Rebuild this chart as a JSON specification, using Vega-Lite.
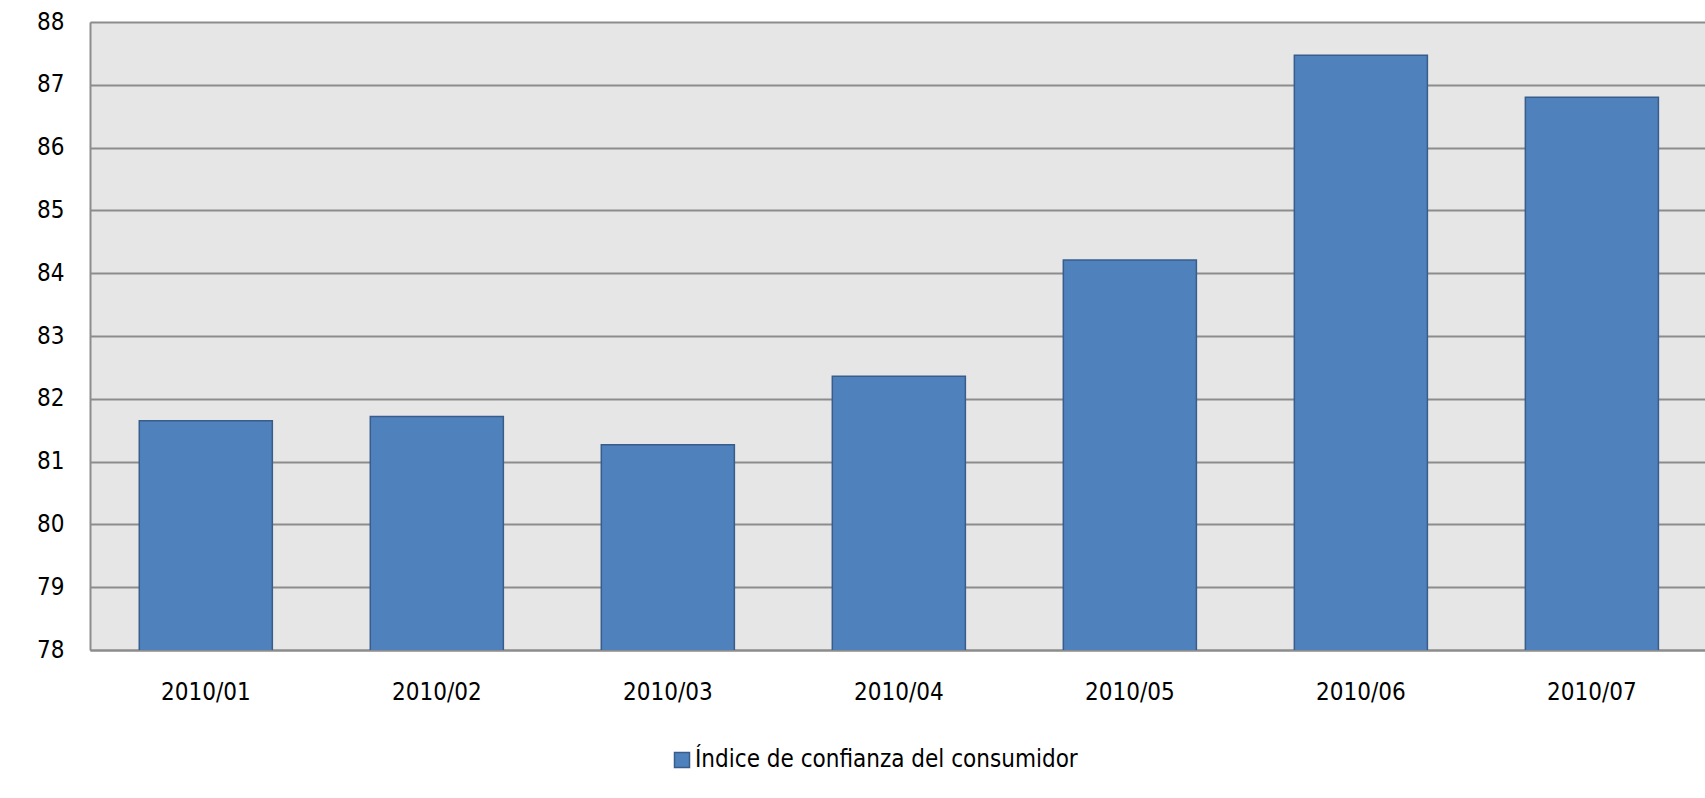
{
  "$schema": "https://vega.github.io/schema/vega-lite/v6.json",
  "autosize": {"type": "none"},
  "padding": {"left": 90, "top": 22, "right": 0, "bottom": 148},
  "width": 1615,
  "height": 628,
  "background": "white",
  "data": {
    "values": [
      {"mes": "2010/01", "valor": 81.65, "serie": "Índice de confianza del consumidor"},
      {"mes": "2010/02", "valor": 81.72, "serie": "Índice de confianza del consumidor"},
      {"mes": "2010/03", "valor": 81.27, "serie": "Índice de confianza del consumidor"},
      {"mes": "2010/04", "valor": 82.36, "serie": "Índice de confianza del consumidor"},
      {"mes": "2010/05", "valor": 84.21, "serie": "Índice de confianza del consumidor"},
      {"mes": "2010/06", "valor": 87.47, "serie": "Índice de confianza del consumidor"},
      {"mes": "2010/07", "valor": 86.80, "serie": "Índice de confianza del consumidor"}
    ]
  },
  "config": {
    "view": {"fill": "#e6e6e6", "stroke": null},
    "font": "DejaVu Sans Condensed, sans-serif"
  },
  "mark": {"type": "bar", "stroke": "#385d8a", "strokeWidth": 1.5, "clip": true},
  "encoding": {
    "x": {
      "field": "mes",
      "type": "nominal",
      "scale": {
        "paddingInner": 0.424,
        "paddingOuter": 0.2075,
        "align": 0.514
      },
      "axis": {
        "title": null,
        "labelAngle": 0,
        "labelFontSize": 24,
        "labelColor": "#000000",
        "labelPadding": 30,
        "ticks": false,
        "domainColor": "#8c8c8c",
        "domainWidth": 2,
        "labelFont": "DejaVu Sans Condensed, sans-serif"
      }
    },
    "y": {
      "field": "valor",
      "type": "quantitative",
      "scale": {"domain": [78, 88], "zero": false, "nice": false},
      "axis": {
        "title": null,
        "values": [78, 79, 80, 81, 82, 83, 84, 85, 86, 87, 88],
        "labelFontSize": 24,
        "labelColor": "#000000",
        "labelPadding": 26,
        "ticks": false,
        "grid": true,
        "gridColor": "#8c8c8c",
        "gridWidth": 2,
        "domainColor": "#8c8c8c",
        "domainWidth": 2,
        "labelFont": "DejaVu Sans Condensed, sans-serif"
      }
    },
    "color": {
      "field": "serie",
      "type": "nominal",
      "scale": {"range": ["#4f81bd"]},
      "legend": {
        "title": null,
        "orient": "none",
        "legendX": 580,
        "legendY": 726,
        "padding": 0,
        "symbolType": "square",
        "symbolSize": 225,
        "symbolFillColor": "#4f81bd",
        "symbolStrokeColor": "#385d8a",
        "symbolStrokeWidth": 1.5,
        "symbolOpacity": 1,
        "labelFontSize": 24,
        "labelLimit": 0,
        "labelColor": "#000000",
        "labelOffset": 1,
        "labelFont": "DejaVu Sans Condensed, sans-serif"
      }
    }
  }
}
